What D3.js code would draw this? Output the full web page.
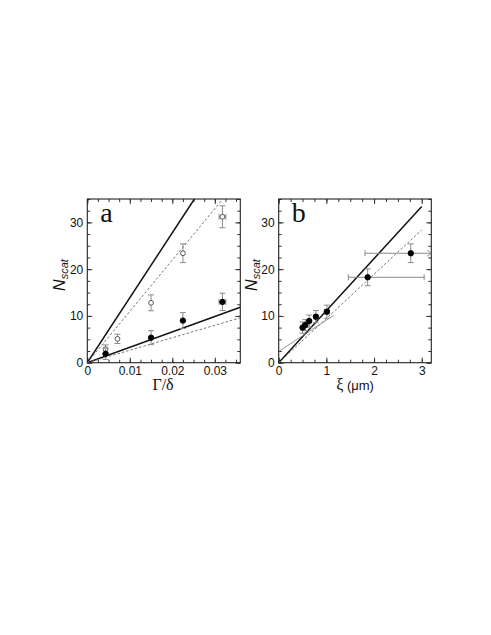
<!DOCTYPE html>
<html>
<head>
<meta charset="utf-8">
<script src="https://cdn.jsdelivr.net/npm/d3@7"></script>
<style>
body { margin: 0; background: #fff; }
</style>
</head>
<body>
<script>
// panel a data (Gamma/delta vs N_scat)
var aOpenX = [0.0043, 0.0071, 0.0150, 0.0225, 0.0318];
var aOpenY = [2.9, 5.1, 12.8, 23.4, 31.2];
var aOpenYErr = [0.9, 1.0, 1.7, 2.0, 2.35];
var aOpenXErr = [0, 0, 0, 0, 0.0008];
var aFillX = [0.0043, 0.0150, 0.0225, 0.0318];
var aFillY = [1.9, 5.35, 9.0, 13.0];
var aFillYErr = [1.2, 1.5, 1.7, 1.85];
var aFillXErr = [0, 0, 0, 0.0008];
var aSolid = [[[0, 0], [0.0252, 35]], [[0, 0], [0.036, 11.85]]];
var aDashed = [[[0, 0], [0.0319, 35]], [[0, 0], [0.036, 9.6]]];
var aXTicks = [0, 0.01, 0.02, 0.03];

// panel b data (xi vs N_scat)
var bX = [0.50, 0.56, 0.64, 0.78, 1.01, 1.866, 2.77];
var bY = [7.5, 8.06, 8.9, 9.84, 10.9, 18.26, 23.4];
var bYErr = [1.2, 1.2, 1.3, 1.3, 1.4, 1.8, 2.0];
var bXLo = [0.47, 0.53, 0.61, 0.74, 0.96, 1.46, 1.81];
var bXHi = [0.53, 0.59, 0.67, 0.82, 1.06, 3.05, 3.2];
var bSolid = [[[0, 0], [3.0, 33.4]]];
var bDashed = [[[0, 0], [3.0, 28.4]]];
var bThin = [[[0, 2.4], [1.15, 10.1]]];
var bXTicks = [0, 1, 2, 3];

var yTicks = [0, 10, 20, 30];

var SANS = "'Liberation Sans', Arial, sans-serif";
var SERIF = "'Liberation Serif', 'Times New Roman', serif";

var svg = d3.select("body").append("svg").attr("width", 491).attr("height", 635);

function drawPanel (p) {
	var x = d3.scaleLinear().domain(p.xDomain).range([p.left, p.right]);
	var y = d3.scaleLinear().domain([0, 35]).range([p.bottom, p.top]);
	var g = svg.append("g");
	var clipId = "clip" + p.name;
	svg.append("clipPath").attr("id", clipId).append("rect").attr("x", p.left).attr("y", p.top).attr("width", p.right - p.left).attr("height", p.bottom - p.top);

	var xMinor = d3.range(0, p.xDomain[1] + 1e-9, p.xMinor);
	var yMinor = d3.range(0, 35.001, 2.5);

	// minor ticks, all four sides
	g.append("g").attr("transform", "translate(0," + p.bottom + ")").call(d3.axisBottom(x).tickValues(xMinor).tickSize(-3).tickFormat(""));
	g.append("g").attr("transform", "translate(0," + p.top + ")").call(d3.axisTop(x).tickValues(xMinor).tickSize(-3).tickFormat(""));
	g.append("g").attr("transform", "translate(" + p.left + ",0)").call(d3.axisLeft(y).tickValues(yMinor).tickSize(-3).tickFormat(""));
	g.append("g").attr("transform", "translate(" + p.right + ",0)").call(d3.axisRight(y).tickValues(yMinor).tickSize(-3).tickFormat(""));
	// major ticks
	g.append("g").attr("transform", "translate(0," + p.bottom + ")").call(d3.axisBottom(x).tickValues(p.xTicks).tickSize(-5).tickPadding(4).tickFormat(p.fmt));
	g.append("g").attr("transform", "translate(0," + p.top + ")").call(d3.axisTop(x).tickValues(p.xTicks).tickSize(-5).tickFormat(""));
	g.append("g").attr("transform", "translate(" + p.left + ",0)").call(d3.axisLeft(y).tickValues(yTicks).tickSize(-5).tickPadding(4).tickFormat(d3.format("d")));
	g.append("g").attr("transform", "translate(" + p.right + ",0)").call(d3.axisRight(y).tickValues(yTicks).tickSize(-5).tickFormat(""));
	g.selectAll(".domain").remove();
	g.selectAll(".tick line").attr("stroke", "#333");
	g.selectAll(".tick text").attr("font-size", "12px").attr("fill", "#111").style("font-family", SANS);

	g.append("rect").attr("x", p.left).attr("y", p.top).attr("width", p.right - p.left).attr("height", p.bottom - p.top).attr("fill", "none").attr("stroke", "#222").attr("stroke-width", 1.1);

	var plot = g.append("g").attr("clip-path", "url(#" + clipId + ")");
	var line = d3.line().x(function (d) { return x(d[0]); }).y(function (d) { return y(d[1]); });
	(p.solid || []).forEach(function (s) {
		plot.append("path").attr("d", line(s)).attr("fill", "none").attr("stroke", "#111").attr("stroke-width", 1.5);
	});
	(p.dashed || []).forEach(function (s) {
		plot.append("path").attr("d", line(s)).attr("fill", "none").attr("stroke", "#666").attr("stroke-width", 0.9).attr("stroke-dasharray", "2.5,2");
	});
	(p.thin || []).forEach(function (s) {
		plot.append("path").attr("d", line(s)).attr("fill", "none").attr("stroke", "#777").attr("stroke-width", 0.8);
	});

	p.series.forEach(function (s) {
		var pts = s.x.map(function (v, i) {
			return { x: v, y: s.y[i], ye: s.ye[i], xl: s.xl[i], xh: s.xh[i] };
		});
		var eb = plot.append("g").attr("stroke", "#8a8a8a").attr("stroke-width", 1).attr("fill", "none");
		pts.forEach(function (d) {
			eb.append("line").attr("x1", x(d.x)).attr("x2", x(d.x)).attr("y1", y(d.y - d.ye)).attr("y2", y(d.y + d.ye));
			eb.append("line").attr("x1", x(d.x) - 3).attr("x2", x(d.x) + 3).attr("y1", y(d.y - d.ye)).attr("y2", y(d.y - d.ye));
			eb.append("line").attr("x1", x(d.x) - 3).attr("x2", x(d.x) + 3).attr("y1", y(d.y + d.ye)).attr("y2", y(d.y + d.ye));
			if (d.xh > d.x) {
				eb.append("line").attr("x1", x(d.xl)).attr("x2", x(d.xh)).attr("y1", y(d.y)).attr("y2", y(d.y));
				eb.append("line").attr("x1", x(d.xl)).attr("x2", x(d.xl)).attr("y1", y(d.y) - 3).attr("y2", y(d.y) + 3);
				if (d.xh >= p.xDomain[1]) {
					eb.append("path").attr("d", "M" + (x(d.xh) - 4) + "," + (y(d.y) - 3) + "L" + x(d.xh) + "," + y(d.y) + "L" + (x(d.xh) - 4) + "," + (y(d.y) + 3));
				} else {
					eb.append("line").attr("x1", x(d.xh)).attr("x2", x(d.xh)).attr("y1", y(d.y) - 3).attr("y2", y(d.y) + 3);
				}
			}
		});
		plot.append("g").selectAll("circle").data(pts).join("circle")
			.attr("cx", function (d) { return x(d.x); })
			.attr("cy", function (d) { return y(d.y); })
			.attr("r", s.open ? 2.4 : 2.7)
			.attr("fill", s.open ? "#fff" : "#000")
			.attr("stroke", s.open ? "#555" : "#000")
			.attr("stroke-width", 1);
	});

	// panel letter
	g.append("text").attr("x", p.left + 13).attr("y", p.top + 23).style("font-family", SERIF).attr("font-size", "28px").attr("fill", "#111").text(p.name);

	// y title N_scat
	var yl = g.append("text").attr("transform", "translate(" + p.yTitleX + "," + 275 + ") rotate(-90)").attr("text-anchor", "middle").attr("fill", "#111").attr("font-style", "italic").style("font-family", SANS);
	yl.append("tspan").attr("font-size", "16px").text("N");
	yl.append("tspan").attr("font-size", "11px").attr("dy", 3).text("scat");

	// x title
	var xt = g.append("text").attr("x", p.xTitleX).attr("y", 390).attr("text-anchor", "middle").attr("fill", "#111").style("font-family", SANS);
	p.xTitle(xt);
}

drawPanel({
	name: "a",
	left: 87.3, right: 240.3, top: 199, bottom: 362.7,
	xDomain: [0, 0.036], xMinor: 0.0025, xTicks: aXTicks,
	fmt: function (d) { return d === 0 ? "0" : d3.format(".2f")(d); },
	solid: aSolid, dashed: aDashed,
	series: [
		{ x: aOpenX, y: aOpenY, ye: aOpenYErr, xl: aOpenX.map(function (v, i) { return v - aOpenXErr[i]; }), xh: aOpenX.map(function (v, i) { return v + aOpenXErr[i]; }), open: true },
		{ x: aFillX, y: aFillY, ye: aFillYErr, xl: aFillX.map(function (v, i) { return v - aFillXErr[i]; }), xh: aFillX.map(function (v, i) { return v + aFillXErr[i]; }), open: false }
	],
	yTitleX: 65,
	xTitleX: 163,
	xTitle: function (t) {
		t.style("font-family", SERIF).attr("font-size", "16px").text("\u0393/\u03b4");
	}
});

drawPanel({
	name: "b",
	left: 278.7, right: 431.3, top: 199, bottom: 362.7,
	xDomain: [0, 3.2], xMinor: 0.25, xTicks: bXTicks,
	fmt: d3.format("d"),
	solid: bSolid, dashed: bDashed, thin: bThin,
	series: [
		{ x: bX, y: bY, ye: bYErr, xl: bXLo, xh: bXHi, open: false }
	],
	yTitleX: 256.5,
	xTitleX: 355,
	xTitle: function (t) {
		t.attr("font-size", "13px");
		t.append("tspan").style("font-family", SERIF).attr("font-size", "16px").text("\u03be");
		t.append("tspan").text(" (\u03bcm)");
	}
});
</script>
</body>
</html>
